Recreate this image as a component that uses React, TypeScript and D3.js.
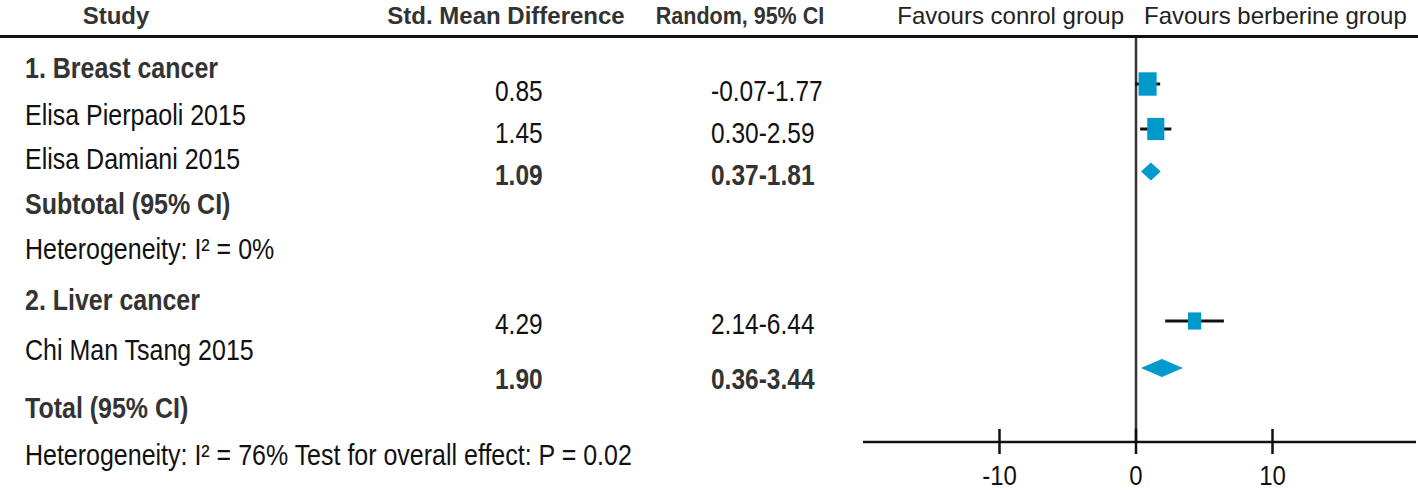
import React from 'react';
import * as d3 from 'd3';

// ---- data ----
const headers = ['Study', 'Std. Mean Difference', 'Random, 95% CI'];
const favours = ['Favours conrol group', 'Favours berberine group'];
const groups = ['1. Breast cancer', '2. Liver cancer'];
const studies = ['Elisa Pierpaoli 2015', 'Elisa Damiani 2015', 'Chi Man Tsang 2015'];
const studySmd = [0.85, 1.45, 4.29];
const studyLow = [-0.07, 0.3, 2.14];
const studyHigh = [1.77, 2.59, 6.44];
const studyWeight = [41, 37, 22];
const pooledLabels = ['Subtotal (95% CI)', 'Total (95% CI)'];
const pooledSmd = [1.09, 1.9];
const pooledLow = [0.37, 0.36];
const pooledHigh = [1.81, 3.44];
const heterogeneity = [
  'Heterogeneity: I\u00B2 = 0%',
  'Heterogeneity: I\u00B2 = 76% Test for overall effect: P = 0.02',
];
const xTicks = [-10, 0, 10];
const xDomain = [-20, 20];

// ---- layout ----
const W = 1418;
const H = 490;
const FONT = "'Liberation Sans', Arial, sans-serif";
const BLUE = '#0099CC';
const KY = 1.17; // vertical stretch to emulate the narrow face

const groupY = [78, 310];
const studyLabelY = [125, 169, 360];
const pooledLabelY = [214, 418];
const hetY = [259, 465];
const studyNumY = [101, 143, 334];
const pooledNumY = [185, 389];
const studyMarkY = [84, 129, 321];
const pooledMarkY = [171.5, 368];

const fmt = (v: number) => v.toFixed(2);

type TP = {
  x: number;
  y: number;
  size: number;
  bold?: boolean;
  anchor?: 'start' | 'middle' | 'end';
  fill?: string;
  ky?: number;
  children: React.ReactNode;
};
function T({ x, y, size, bold, anchor = 'start', fill, ky = KY, children }: TP) {
  return (
    <text
      transform={`translate(${x},${y}) scale(1,${ky})`}
      fontSize={size}
      fontWeight={bold ? 'bold' : 'normal'}
      textAnchor={anchor}
      fill={fill || (bold ? '#333' : '#111')}
    >
      {children}
    </text>
  );
}

export default function App() {
  const x = d3.scaleLinear().domain(xDomain).range([863, 1409]);
  const size = d3.scaleSqrt().domain([0, d3.max(studyWeight) as number]).range([0, 18]);
  const x0 = x(0);
  const axisY = 442;
  const numX = 495;
  const ciX = 711;
  const headY = 24;

  return (
    <svg
      width={W}
      height={H}
      style={{ position: 'absolute', left: 0, top: 0, background: '#fff' }}
      fontFamily={FONT}
    >
      <rect x={0} y={0} width={W} height={H} fill="#fff" />
      {/* headers */}
      <T x={116} y={headY} size={24} bold anchor="middle" ky={1}>{headers[0]}</T>
      <T x={506} y={headY} size={24} bold anchor="middle" ky={1}>{headers[1]}</T>
      <T x={740} y={headY} size={21.5} bold anchor="middle" ky={1.08}>{headers[2]}</T>
      <T x={x0 - 12} y={headY} size={24} anchor="end" fill="#222" ky={1}>{favours[0]}</T>
      <T x={x0 + 8} y={headY} size={24} anchor="start" fill="#222" ky={1}>{favours[1]}</T>
      <line x1={0} x2={W} y1={36.5} y2={36.5} stroke="#111" strokeWidth={3} />

      {/* left labels */}
      {groups.map((g, i) => (
        <T key={'g' + i} x={25} y={groupY[i]} size={25} bold>{g}</T>
      ))}
      {studies.map((s, i) => (
        <T key={'s' + i} x={25} y={studyLabelY[i]} size={25}>{s}</T>
      ))}
      {pooledLabels.map((s, i) => (
        <T key={'p' + i} x={25} y={pooledLabelY[i]} size={25} bold>{s}</T>
      ))}
      {heterogeneity.map((s, i) => (
        <T key={'h' + i} x={25} y={hetY[i]} size={25}>{s}</T>
      ))}

      {/* numbers */}
      {studySmd.map((v, i) => (
        <g key={'n' + i}>
          <T x={numX} y={studyNumY[i]} size={24.5}>{fmt(v)}</T>
          <T x={ciX} y={studyNumY[i]} size={24.5}>{fmt(studyLow[i]) + '-' + fmt(studyHigh[i])}</T>
        </g>
      ))}
      {pooledSmd.map((v, i) => (
        <g key={'pn' + i}>
          <T x={numX} y={pooledNumY[i]} size={24.5} bold>{fmt(v)}</T>
          <T x={ciX} y={pooledNumY[i]} size={24.5} bold>{fmt(pooledLow[i]) + '-' + fmt(pooledHigh[i])}</T>
        </g>
      ))}

      {/* zero line */}
      <line x1={x0} x2={x0} y1={38} y2={axisY} stroke="#333" strokeWidth={2.5} />

      {/* study markers */}
      {studySmd.map((v, i) => {
        const w = size(studyWeight[i]);
        const h = w * 1.3;
        return (
          <g key={'m' + i}>
            <line x1={x(studyLow[i])} x2={x(studyHigh[i])} y1={studyMarkY[i]} y2={studyMarkY[i]} stroke="#111" strokeWidth={3} />
            <rect x={x(v) - w / 2} y={studyMarkY[i] - h / 2} width={w} height={h} fill={BLUE} />
          </g>
        );
      })}
      {/* pooled diamonds */}
      {pooledSmd.map((v, i) => {
        const y = pooledMarkY[i];
        const hh = 9;
        const pts = [
          [x(pooledLow[i]), y],
          [x(v), y - hh],
          [x(pooledHigh[i]), y],
          [x(v), y + hh],
        ];
        return <polygon key={'d' + i} points={pts.map((p) => p.join(',')).join(' ')} fill={BLUE} />;
      })}

      {/* axis */}
      <line x1={863} x2={1416} y1={axisY} y2={axisY} stroke="#111" strokeWidth={2.5} />
      {xTicks.map((t) => (
        <g key={'t' + t}>
          <line x1={x(t)} x2={x(t)} y1={axisY - 13} y2={axisY + 12} stroke="#111" strokeWidth={2.5} />
          <T x={x(t)} y={485} size={24} anchor="middle">{String(t)}</T>
        </g>
      ))}
    </svg>
  );
}
